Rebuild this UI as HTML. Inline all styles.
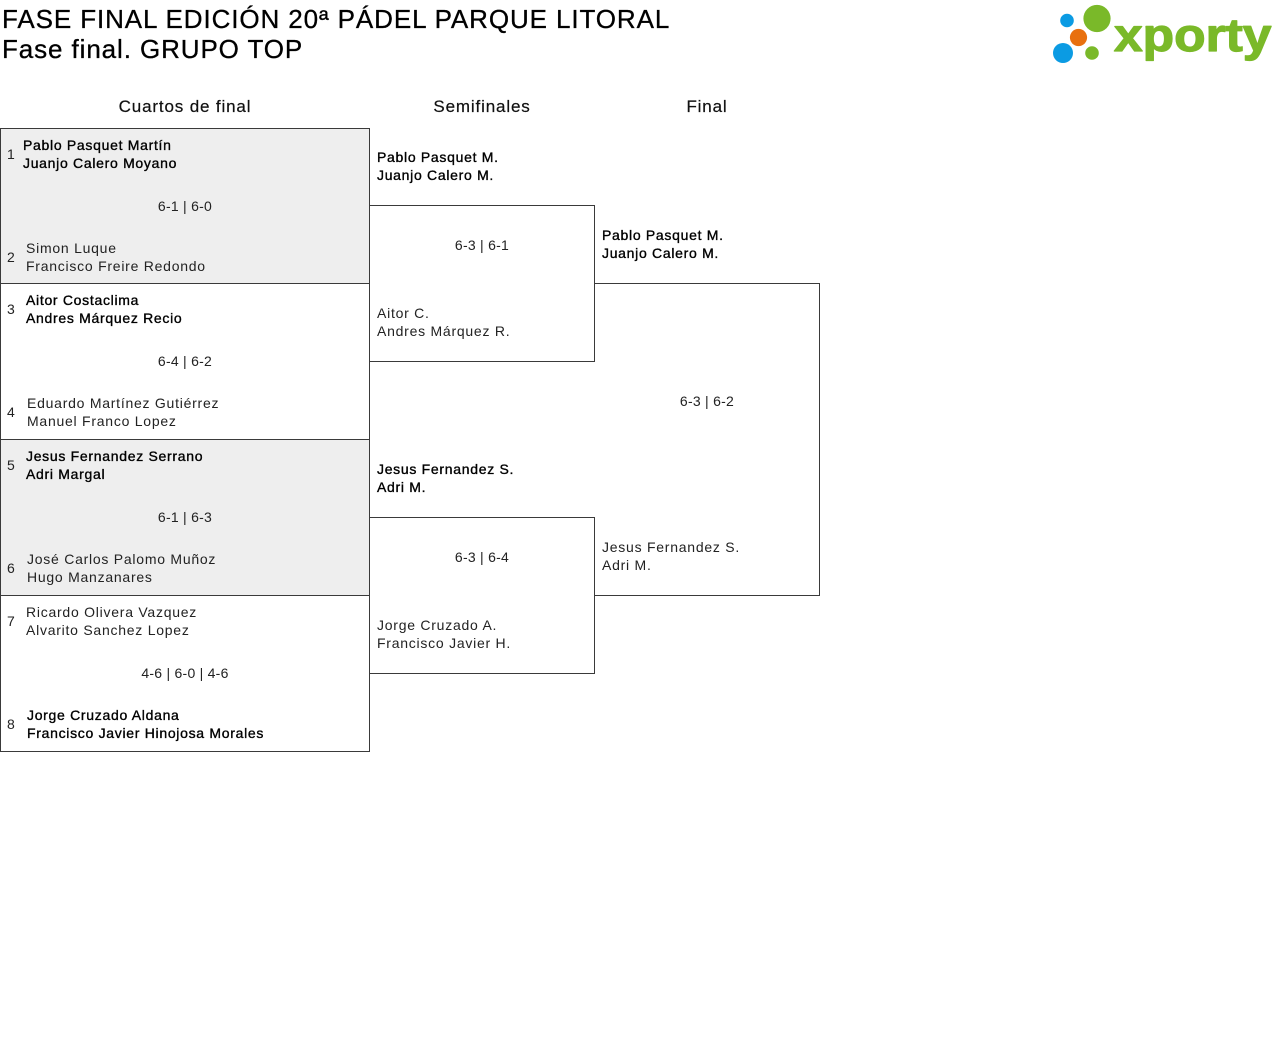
<!DOCTYPE html>
<html>
<head>
<meta charset="utf-8">
<style>
html,body{margin:0;padding:0;background:#fff;}
body{width:1280px;height:1048px;position:relative;overflow:hidden;font-family:"Liberation Sans",Arial,sans-serif;color:#000;}
.t{position:absolute;white-space:nowrap;}
.title{left:2px;font-size:26px;line-height:30px;letter-spacing:0.9px;color:#000;-webkit-text-stroke:0.3px #000;}
.hdr{top:97px;font-size:17px;line-height:20px;letter-spacing:0.85px;width:300px;text-align:center;color:#111;-webkit-text-stroke:0.2px #111;}
.n{font-size:14px;line-height:18px;letter-spacing:0.75px;color:#222;}
.w{color:#000;-webkit-text-stroke:0.35px #000;letter-spacing:0.7px;}
.num{font-size:14px;line-height:18px;left:7px;color:#222;}
.sc{font-size:14px;line-height:18px;letter-spacing:0.25px;text-align:center;color:#222;}
svg{position:absolute;left:0;top:0;}
</style>
</head>
<body>
<svg width="1280" height="1048" viewBox="0 0 1280 1048" shape-rendering="crispEdges">
  <rect x="1" y="129" width="368" height="154" fill="#eeeeee"/>
  <rect x="1" y="440" width="368" height="155" fill="#eeeeee"/>
  <g stroke="#3a3a3a" stroke-width="1" fill="none">
    <!-- QF -->
    <line x1="0.5" y1="128" x2="0.5" y2="752"/>
    <line x1="369.5" y1="128" x2="369.5" y2="752"/>
    <line x1="0" y1="128.5" x2="370" y2="128.5"/>
    <line x1="0" y1="283.5" x2="370" y2="283.5"/>
    <line x1="0" y1="439.5" x2="370" y2="439.5"/>
    <line x1="0" y1="595.5" x2="370" y2="595.5"/>
    <line x1="0" y1="751.5" x2="370" y2="751.5"/>
    <!-- SF boxes -->
    <line x1="369" y1="205.5" x2="595" y2="205.5"/>
    <line x1="369" y1="361.5" x2="595" y2="361.5"/>
    <line x1="594.5" y1="205" x2="594.5" y2="362"/>
    <line x1="369" y1="517.5" x2="595" y2="517.5"/>
    <line x1="369" y1="673.5" x2="595" y2="673.5"/>
    <line x1="594.5" y1="517" x2="594.5" y2="674"/>
    <!-- Final box -->
    <line x1="594" y1="283.5" x2="820" y2="283.5"/>
    <line x1="594" y1="595.5" x2="820" y2="595.5"/>
    <line x1="819.5" y1="283" x2="819.5" y2="596"/>
  </g>
  <!-- logo -->
  <g shape-rendering="geometricPrecision">
    <circle cx="1067" cy="20.5" r="6.8" fill="#0b9be3"/>
    <circle cx="1097" cy="18.5" r="13.6" fill="#7ab929"/>
    <circle cx="1078.5" cy="37.5" r="8.6" fill="#e8700f"/>
    <circle cx="1063" cy="53" r="10" fill="#0b9be3"/>
    <circle cx="1092" cy="53" r="6.8" fill="#7ab929"/>
    <text x="0" y="0" transform="translate(1114 51) scale(1.12 1)" font-family="Liberation Sans, Arial, sans-serif" font-weight="bold" font-size="46" fill="#7ab929" stroke="#7ab929" stroke-width="1.2" stroke-linejoin="round">xporty</text>
  </g>
</svg>

<div class="t title" style="top:4px;">FASE FINAL EDICIÓN 20ª PÁDEL PARQUE LITORAL</div>
<div class="t title" style="top:34px;">Fase final. GRUPO TOP</div>

<div class="t hdr" style="left:35px;">Cuartos de final</div>
<div class="t hdr" style="left:332px;">Semifinales</div>
<div class="t hdr" style="left:557px;">Final</div>

<!-- QF box 1 (y0=128) -->
<div class="t num" style="top:145px;">1</div>
<div class="t n w" style="left:23px;top:136px;">Pablo Pasquet Martín<br>Juanjo Calero Moyano</div>
<div class="t sc" style="left:35px;width:300px;top:197px;">6-1 | 6-0</div>
<div class="t num" style="top:248px;">2</div>
<div class="t n" style="left:26px;top:239px;">Simon Luque<br>Francisco Freire Redondo</div>

<!-- QF box 2 (y0=283) -->
<div class="t num" style="top:300px;">3</div>
<div class="t n w" style="left:26px;top:291px;">Aitor Costaclima<br>Andres Márquez Recio</div>
<div class="t sc" style="left:35px;width:300px;top:352px;">6-4 | 6-2</div>
<div class="t num" style="top:403px;">4</div>
<div class="t n" style="left:27px;top:394px;">Eduardo Martínez Gutiérrez<br>Manuel Franco Lopez</div>

<!-- QF box 3 (y0=439) -->
<div class="t num" style="top:456px;">5</div>
<div class="t n w" style="left:26px;top:447px;">Jesus Fernandez Serrano<br>Adri Margal</div>
<div class="t sc" style="left:35px;width:300px;top:508px;">6-1 | 6-3</div>
<div class="t num" style="top:559px;">6</div>
<div class="t n" style="left:27px;top:550px;">José Carlos Palomo Muñoz<br>Hugo Manzanares</div>

<!-- QF box 4 (y0=595) -->
<div class="t num" style="top:612px;">7</div>
<div class="t n" style="left:26px;top:603px;">Ricardo Olivera Vazquez<br>Alvarito Sanchez Lopez</div>
<div class="t sc" style="left:35px;width:300px;top:664px;">4-6 | 6-0 | 4-6</div>
<div class="t num" style="top:715px;">8</div>
<div class="t n w" style="left:27px;top:706px;">Jorge Cruzado Aldana<br>Francisco Javier Hinojosa Morales</div>

<!-- SF 1 -->
<div class="t n w" style="left:377px;top:148px;">Pablo Pasquet M.<br>Juanjo Calero M.</div>
<div class="t sc" style="left:332px;width:300px;top:236px;">6-3 | 6-1</div>
<div class="t n" style="left:377px;top:304px;">Aitor C.<br>Andres Márquez R.</div>

<!-- SF 2 -->
<div class="t n w" style="left:377px;top:460px;">Jesus Fernandez S.<br>Adri M.</div>
<div class="t sc" style="left:332px;width:300px;top:548px;">6-3 | 6-4</div>
<div class="t n" style="left:377px;top:616px;">Jorge Cruzado A.<br>Francisco Javier H.</div>

<!-- Final -->
<div class="t n w" style="left:602px;top:226px;">Pablo Pasquet M.<br>Juanjo Calero M.</div>
<div class="t sc" style="left:557px;width:300px;top:392px;">6-3 | 6-2</div>
<div class="t n" style="left:602px;top:538px;">Jesus Fernandez S.<br>Adri M.</div>
</body>
</html>
